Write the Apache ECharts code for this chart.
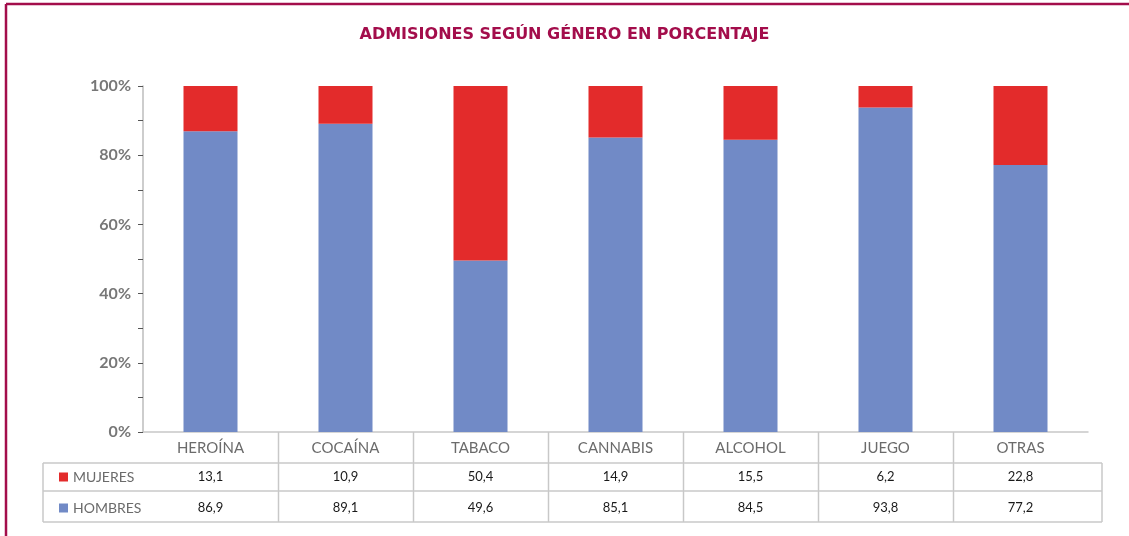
<!DOCTYPE html>
<html>
<head>
<meta charset="utf-8">
<script src="https://cdn.jsdelivr.net/npm/echarts@6/dist/echarts.min.js"></script>
<style>
  html, body { margin: 0; padding: 0; background: #fff; }
  #main { width: 1129px; height: 536px; }
</style>
</head>
<body>
<div id="main"></div>
<script>
// datos
var categorias = ['HEROÍNA', 'COCAÍNA', 'TABACO', 'CANNABIS', 'ALCOHOL', 'JUEGO', 'OTRAS'];
var mujeres = [13.1, 10.9, 50.4, 14.9, 15.5, 6.2, 22.8];
var hombres = [86.9, 89.1, 49.6, 85.1, 84.5, 93.8, 77.2];

var rojo = '#e32b2b';
var azul = '#718ac6';
var granate = '#a30d4b';
var fuente = 'Lato, "DejaVu Sans", sans-serif';

// layout
var gridLeft = 143, gridRight = 1088, axisY = 432;
var tablaLeft = 43, tablaRight = 1102;
var filas = [463, 491, 522];
var lineaTabla = '#c8c8c8';

function coma(v) {
  return v.toFixed(1).replace('.', ',');
}

// lineas de la tabla
var graficos = [];
var catW = (gridRight - gridLeft) / categorias.length;
filas.forEach(function (y) {
  graficos.push({ type: 'line', shape: { x1: tablaLeft, y1: y, x2: tablaRight, y2: y },
    style: { stroke: lineaTabla, lineWidth: 1.5 } });
});
graficos.push({ type: 'line', shape: { x1: tablaLeft, y1: filas[0], x2: tablaLeft, y2: filas[2] },
  style: { stroke: lineaTabla, lineWidth: 1.5 } });
graficos.push({ type: 'line', shape: { x1: tablaRight, y1: filas[0], x2: tablaRight, y2: filas[2] },
  style: { stroke: lineaTabla, lineWidth: 1.5 } });
for (var i = 1; i < categorias.length; i++) {
  var x = Math.round(gridLeft + catW * i) + 0.5;
  graficos.push({ type: 'line', shape: { x1: x, y1: axisY, x2: x, y2: filas[2] },
    style: { stroke: lineaTabla, lineWidth: 1.5 } });
}
// marco granate
graficos.push({ type: 'line', shape: { x1: 6, y1: 4, x2: 1129, y2: 4 }, style: { stroke: granate, lineWidth: 2.5 } });
graficos.push({ type: 'line', shape: { x1: 6, y1: 4, x2: 6, y2: 536 }, style: { stroke: granate, lineWidth: 2.5 } });

var myChart = echarts.init(document.getElementById('main'));
myChart.setOption({
  animation: false,
  textStyle: { fontFamily: fuente },
  title: {
    text: 'ADMISIONES SEGÚN GÉNERO EN PORCENTAJE',
    left: 'center',
    top: 22,
    textStyle: { color: granate, fontSize: 16, fontWeight: 'bold', fontFamily: '"DejaVu Sans", sans-serif' }
  },
  legend: {
    data: ['MUJERES', 'HOMBRES'],
    orient: 'vertical',
    left: 54,
    top: 465,
    itemWidth: 9,
    itemHeight: 9,
    itemGap: 17,
    icon: 'rect',
    textStyle: { color: '#6b6b6b', fontSize: 14, fontFamily: fuente },
    selectedMode: false
  },
  grid: { left: gridLeft, right: 1129 - gridRight, top: 86, bottom: 536 - axisY },
  xAxis: [
    {
      type: 'category',
      data: categorias,
      axisLine: { lineStyle: { color: '#c8c8c8', width: 1.5 } },
      axisTick: { show: false },
      axisLabel: { color: '#6b6b6b', fontSize: 15, margin: 9, interval: 0 }
    },
    {
      type: 'category',
      data: categorias,
      position: 'bottom',
      axisLine: { show: false },
      axisTick: { show: false },
      axisLabel: { color: '#1a1a1a', fontSize: 13, margin: 38, interval: 0,
        formatter: function (v, i) { return coma(mujeres[i]); } }
    },
    {
      type: 'category',
      data: categorias,
      position: 'bottom',
      axisLine: { show: false },
      axisTick: { show: false },
      axisLabel: { color: '#1a1a1a', fontSize: 13, margin: 69, interval: 0,
        formatter: function (v, i) { return coma(hombres[i]); } }
    }
  ],
  yAxis: {
    type: 'value',
    min: 0,
    max: 100,
    interval: 20,
    axisLine: { show: true, lineStyle: { color: '#bdbdbd', width: 1.5 } },
    axisTick: { show: true, length: 5, lineStyle: { color: '#555' } },
    minorTick: { show: true, splitNumber: 2, length: 5, lineStyle: { color: '#555' } },
    splitLine: { show: false },
    axisLabel: { color: '#777', fontSize: 16, fontWeight: 'bold', margin: 12,
      formatter: '{value}%' }
  },
  series: [
    {
      name: 'HOMBRES',
      type: 'bar',
      stack: 'total',
      barWidth: '40%',
      itemStyle: { color: azul },
      data: hombres
    },
    {
      name: 'MUJERES',
      type: 'bar',
      stack: 'total',
      barWidth: '40%',
      itemStyle: { color: rojo },
      data: mujeres
    }
  ],
  graphic: graficos
});
</script>
</body>
</html>
